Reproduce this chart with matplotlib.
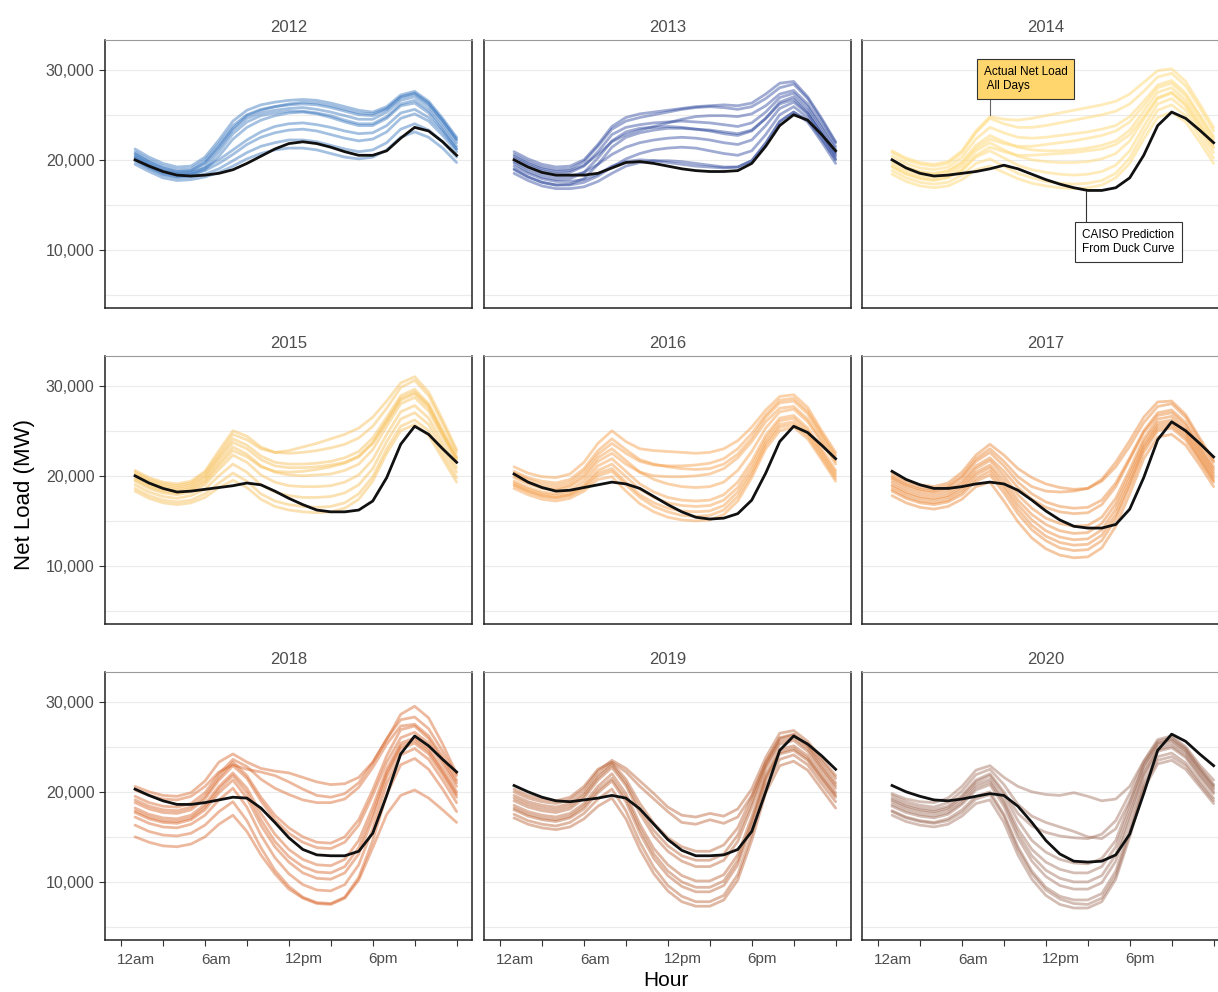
import numpy as np
import matplotlib
matplotlib.use('Agg')
import matplotlib.pyplot as plt
import matplotlib.transforms as mtransforms

plt.rcParams['font.family'] = ['Liberation Sans', 'DejaVu Sans']

# net load in thousands of MW, hours 1..24
hours = list(range(1, 25))
years = [2012, 2013, 2014, 2015, 2016, 2017, 2018, 2019, 2020]
year_colors = ['#3574BE', '#2A459C', '#FFDC80', '#F7BE52', '#F49A42',
               '#EA8330', '#D96428', '#B86032', '#A06E5A']
tick_hours = [0, 3, 6, 9, 12, 15, 18, 21, 24]
tick_labels = ['12am', '', '6am', '', '12pm', '', '6pm', '', '']
y_ticks = [10000, 20000, 30000]

caiso_2012 = [20.0, 19.3, 18.7, 18.3, 18.2, 18.3, 18.5, 18.9, 19.6, 20.4, 21.2, 21.8, 22.0, 21.8, 21.4, 20.9, 20.5, 20.5, 21.0, 22.4, 23.6, 23.2, 22.0, 20.5]
caiso_2013 = [20.0, 19.2, 18.6, 18.3, 18.3, 18.3, 18.5, 19.1, 19.7, 19.8, 19.6, 19.3, 19.0, 18.8, 18.7, 18.7, 18.8, 19.6, 21.5, 23.8, 25.0, 24.4, 22.8, 21.0]
caiso_2014 = [20.0, 19.1, 18.5, 18.2, 18.3, 18.5, 18.7, 19.0, 19.4, 19.0, 18.4, 17.8, 17.3, 16.9, 16.6, 16.6, 16.9, 18.0, 20.5, 23.8, 25.3, 24.6, 23.3, 21.9]
caiso_2015 = [20.0, 19.2, 18.6, 18.2, 18.3, 18.5, 18.7, 18.9, 19.2, 19.0, 18.3, 17.5, 16.8, 16.2, 16.0, 16.0, 16.2, 17.2, 19.8, 23.5, 25.5, 24.6, 23.0, 21.5]
caiso_2016 = [20.2, 19.3, 18.7, 18.3, 18.4, 18.7, 19.0, 19.3, 19.1, 18.6, 17.7, 16.8, 16.0, 15.4, 15.2, 15.3, 15.8, 17.3, 20.3, 23.8, 25.5, 24.8, 23.4, 21.9]
caiso_2017 = [20.5, 19.6, 19.0, 18.6, 18.6, 18.8, 19.1, 19.3, 19.1, 18.4, 17.3, 16.1, 15.1, 14.4, 14.2, 14.2, 14.6, 16.3, 19.8, 24.0, 26.0, 25.0, 23.6, 22.1]
caiso_2018 = [20.3, 19.6, 19.0, 18.6, 18.6, 18.8, 19.1, 19.4, 19.3, 18.2, 16.6, 14.9, 13.6, 13.0, 12.9, 12.9, 13.4, 15.4, 19.6, 24.2, 26.2, 25.1, 23.6, 22.2]
caiso_2019 = [20.7, 20.0, 19.4, 19.0, 18.9, 19.1, 19.3, 19.6, 19.3, 18.1, 16.4, 14.7, 13.5, 12.9, 12.9, 13.0, 13.6, 15.6, 20.0, 24.6, 26.2, 25.3, 24.0, 22.5]
caiso_2020 = [20.7, 20.0, 19.5, 19.1, 19.0, 19.2, 19.5, 19.8, 19.6, 18.4, 16.6, 14.6, 13.1, 12.3, 12.2, 12.3, 13.0, 15.3, 19.8, 24.6, 26.4, 25.6, 24.2, 22.9]

days_2012 = [
    [20.9, 20.0, 19.3, 18.9, 19.0, 20.0, 21.8, 23.8, 25.0, 25.6, 25.9, 26.1, 26.2, 26.1, 25.8, 25.4, 25.0, 24.9, 25.6, 26.9, 27.3, 26.2, 24.3, 22.2],
    [20.6, 19.7, 19.0, 18.6, 18.7, 19.6, 21.3, 23.3, 24.6, 25.2, 25.5, 25.7, 25.8, 25.6, 25.3, 24.9, 24.5, 24.5, 25.3, 26.6, 27.0, 25.9, 24.0, 21.9],
    [20.3, 19.4, 18.7, 18.3, 18.4, 19.2, 20.9, 22.9, 24.2, 24.9, 25.2, 25.4, 25.4, 25.2, 24.9, 24.4, 24.0, 24.0, 24.8, 26.2, 26.6, 25.5, 23.6, 21.5],
    [21.2, 20.3, 19.6, 19.2, 19.3, 20.3, 22.2, 24.3, 25.5, 26.1, 26.4, 26.6, 26.7, 26.6, 26.3, 25.9, 25.5, 25.3, 25.9, 27.2, 27.6, 26.5, 24.6, 22.5],
    [20.0, 19.1, 18.4, 18.1, 18.2, 18.9, 20.4, 22.3, 23.6, 24.4, 24.9, 25.2, 25.3, 25.1, 24.7, 24.2, 23.8, 23.8, 24.6, 26.0, 26.3, 25.2, 23.3, 21.2],
    [20.7, 19.8, 19.1, 18.7, 18.8, 19.7, 21.5, 23.5, 24.9, 25.5, 25.9, 26.2, 26.4, 26.3, 26.0, 25.6, 25.2, 25.1, 25.7, 27.0, 27.4, 26.3, 24.4, 22.3],
    [20.4, 19.5, 18.8, 18.5, 18.6, 19.1, 20.0, 21.1, 22.2, 23.1, 23.7, 24.0, 24.1, 23.9, 23.6, 23.2, 22.9, 23.0, 23.8, 25.2, 25.6, 24.7, 23.1, 21.2],
    [20.2, 19.3, 18.6, 18.3, 18.4, 18.8, 19.6, 20.6, 21.7, 22.5, 23.0, 23.3, 23.4, 23.2, 22.8, 22.4, 22.1, 22.3, 23.1, 24.6, 25.1, 24.3, 22.7, 20.9],
    [19.8, 19.0, 18.3, 18.0, 18.1, 18.4, 19.0, 19.9, 20.8, 21.5, 21.9, 22.2, 22.2, 22.0, 21.6, 21.2, 20.9, 21.1, 21.9, 23.4, 24.0, 23.3, 22.0, 20.3],
    [19.5, 18.7, 18.0, 17.7, 17.8, 18.1, 18.6, 19.3, 20.1, 20.7, 21.1, 21.3, 21.3, 21.1, 20.7, 20.3, 20.1, 20.3, 21.1, 22.5, 23.1, 22.5, 21.3, 19.7],
]

days_2013 = [
    [20.6, 19.8, 19.2, 18.9, 19.0, 19.8, 21.5, 23.4, 24.3, 24.7, 25.0, 25.3, 25.6, 25.8, 25.9, 25.8, 25.6, 25.9, 26.8, 28.0, 28.4, 26.8, 24.4, 21.9],
    [20.2, 19.4, 18.8, 18.5, 18.6, 19.3, 20.9, 22.8, 23.6, 23.9, 24.1, 24.2, 24.3, 24.2, 24.1, 23.9, 23.7, 24.1, 25.3, 26.9, 27.4, 25.9, 23.6, 21.2],
    [19.6, 18.7, 18.1, 17.8, 17.9, 18.6, 20.2, 22.1, 23.1, 23.5, 23.6, 23.7, 23.6, 23.4, 23.2, 22.9, 22.7, 23.2, 24.6, 26.4, 27.0, 25.5, 23.2, 20.8],
    [19.0, 18.1, 17.5, 17.2, 17.3, 17.9, 19.5, 21.4, 22.5, 23.0, 23.3, 23.5, 23.5, 23.4, 23.3, 23.1, 22.9, 23.3, 24.6, 26.2, 26.7, 25.2, 22.9, 20.4],
    [20.4, 19.6, 19.0, 18.7, 18.8, 19.4, 20.6, 22.0, 22.8, 23.3, 23.7, 24.1, 24.5, 24.8, 24.9, 24.9, 24.8, 25.1, 26.0, 27.3, 27.7, 26.2, 23.9, 21.5],
    [19.8, 19.0, 18.4, 18.1, 18.2, 18.6, 19.5, 20.6, 21.4, 21.9, 22.2, 22.4, 22.5, 22.4, 22.2, 21.9, 21.7, 22.2, 23.8, 25.7, 26.4, 25.1, 22.9, 20.6],
    [18.9, 18.1, 17.5, 17.2, 17.2, 17.5, 18.2, 19.2, 20.1, 20.7, 21.1, 21.3, 21.4, 21.3, 21.0, 20.7, 20.5, 21.0, 22.8, 25.0, 25.9, 24.7, 22.5, 20.1],
    [18.5, 17.7, 17.1, 16.8, 16.8, 17.0, 17.6, 18.5, 19.3, 19.7, 19.9, 19.9, 19.8, 19.6, 19.4, 19.2, 19.2, 19.9, 21.9, 24.3, 25.3, 24.2, 22.0, 19.6],
    [19.3, 18.5, 17.9, 17.6, 17.6, 17.8, 18.4, 19.3, 19.8, 20.0, 19.9, 19.7, 19.5, 19.3, 19.2, 19.1, 19.2, 19.9, 21.8, 24.2, 25.3, 24.4, 22.3, 20.0],
    [20.9, 20.1, 19.5, 19.2, 19.3, 20.0, 21.7, 23.7, 24.7, 25.1, 25.3, 25.5, 25.7, 25.9, 26.0, 26.1, 26.0, 26.3, 27.3, 28.5, 28.7, 27.0, 24.6, 22.0],
]

days_2014 = [
    [20.8, 20.0, 19.5, 19.3, 19.6, 20.8, 23.0, 24.6, 24.0, 23.6, 23.6, 23.8, 24.1, 24.4, 24.7, 25.0, 25.4, 26.2, 27.6, 29.2, 29.6, 28.2, 25.8, 23.2],
    [20.4, 19.6, 19.1, 18.9, 19.2, 20.3, 22.3, 23.6, 23.0, 22.5, 22.4, 22.5, 22.7, 22.9, 23.1, 23.4, 23.8, 24.8, 26.5, 28.3, 28.8, 27.4, 25.0, 22.6],
    [20.0, 19.2, 18.7, 18.5, 18.8, 19.8, 21.6, 22.7, 22.0, 21.4, 21.1, 21.0, 21.0, 21.1, 21.3, 21.6, 22.1, 23.3, 25.4, 27.5, 28.0, 26.6, 24.3, 21.9],
    [19.6, 18.8, 18.3, 18.1, 18.4, 19.3, 21.0, 21.9, 21.1, 20.4, 20.0, 19.8, 19.7, 19.7, 19.8, 20.1, 20.7, 22.1, 24.5, 26.8, 27.4, 26.0, 23.7, 21.3],
    [19.2, 18.4, 17.9, 17.7, 18.0, 18.8, 20.3, 21.0, 20.2, 19.4, 18.9, 18.6, 18.4, 18.3, 18.4, 18.7, 19.4, 21.0, 23.7, 26.2, 26.8, 25.5, 23.2, 20.8],
    [18.8, 18.0, 17.5, 17.3, 17.5, 18.3, 19.6, 20.1, 19.3, 18.5, 18.0, 17.6, 17.4, 17.3, 17.4, 17.7, 18.5, 20.2, 23.0, 25.5, 26.1, 24.9, 22.6, 20.2],
    [21.0, 20.2, 19.7, 19.5, 19.8, 21.0, 23.2, 24.8, 24.5, 24.4, 24.6, 24.9, 25.2, 25.5, 25.8, 26.1, 26.5, 27.3, 28.6, 29.9, 30.1, 28.7, 26.2, 23.6],
    [18.4, 17.6, 17.1, 16.9, 17.1, 17.8, 18.9, 19.3, 18.6, 17.9, 17.4, 17.1, 16.9, 16.8, 16.9, 17.2, 18.0, 19.6, 22.3, 24.7, 25.3, 24.2, 22.0, 19.6],
    [19.9, 19.1, 18.6, 18.4, 18.7, 19.6, 21.3, 22.3, 21.8, 21.5, 21.5, 21.7, 21.9, 22.1, 22.4, 22.7, 23.2, 24.2, 26.0, 28.0, 28.5, 27.1, 24.8, 22.3],
    [19.3, 18.5, 18.0, 17.8, 18.1, 18.9, 20.5, 21.4, 20.9, 20.5, 20.5, 20.6, 20.7, 20.8, 21.0, 21.2, 21.7, 22.8, 24.8, 26.9, 27.5, 26.2, 23.9, 21.5],
]

days_2015 = [
    [20.6, 19.8, 19.3, 19.1, 19.4, 20.5, 22.8, 25.0, 24.4, 23.2, 22.6, 22.5, 22.6, 22.8, 23.1, 23.5, 24.2, 25.5, 27.5, 29.8, 30.6, 28.9, 25.8, 22.6],
    [20.2, 19.4, 18.9, 18.7, 19.0, 20.0, 22.1, 24.1, 23.4, 22.2, 21.5, 21.3, 21.3, 21.4, 21.6, 22.0, 22.7, 24.2, 26.5, 28.9, 29.6, 28.0, 25.0, 22.1],
    [19.8, 19.0, 18.5, 18.3, 18.6, 19.5, 21.4, 23.2, 22.4, 21.1, 20.4, 20.1, 20.0, 20.1, 20.2, 20.6, 21.3, 22.9, 25.5, 28.0, 28.7, 27.2, 24.3, 21.5],
    [19.4, 18.6, 18.1, 17.9, 18.2, 19.0, 20.7, 22.3, 21.5, 20.1, 19.3, 18.9, 18.8, 18.8, 18.9, 19.3, 20.1, 21.8, 24.6, 27.1, 27.8, 26.4, 23.6, 20.9],
    [19.0, 18.2, 17.7, 17.5, 17.8, 18.5, 20.0, 21.3, 20.4, 19.0, 18.2, 17.8, 17.6, 17.6, 17.7, 18.1, 19.0, 20.8, 23.8, 26.3, 27.0, 25.7, 23.0, 20.4],
    [18.6, 17.8, 17.3, 17.1, 17.3, 18.0, 19.2, 20.3, 19.4, 18.0, 17.2, 16.8, 16.6, 16.5, 16.6, 17.0, 18.0, 19.9, 23.0, 25.5, 26.2, 25.0, 22.4, 19.8],
    [20.4, 19.6, 19.1, 18.9, 19.2, 20.3, 22.4, 24.6, 24.0, 23.0, 22.6, 22.8, 23.2, 23.6, 24.1, 24.6, 25.3, 26.5, 28.3, 30.3, 31.0, 29.3, 26.2, 22.9],
    [18.3, 17.5, 17.0, 16.8, 17.0, 17.6, 18.7, 19.5, 18.7, 17.4, 16.6, 16.2, 16.0, 15.9, 16.0, 16.4, 17.4, 19.4, 22.5, 25.0, 25.7, 24.5, 21.9, 19.3],
    [19.6, 18.8, 18.3, 18.1, 18.4, 19.3, 21.1, 22.8, 22.1, 21.0, 20.5, 20.4, 20.5, 20.7, 21.0, 21.4, 22.1, 23.6, 26.0, 28.4, 29.1, 27.6, 24.6, 21.8],
    [20.0, 19.2, 18.7, 18.5, 18.8, 19.8, 21.8, 23.7, 23.0, 21.8, 21.1, 20.9, 20.9, 21.0, 21.2, 21.5, 22.2, 23.7, 26.1, 28.6, 29.3, 27.8, 24.8, 22.0],
]

days_2016 = [
    [21.0, 20.3, 19.9, 19.8, 20.2, 21.5, 23.6, 25.0, 23.8, 23.0, 22.8, 22.7, 22.6, 22.5, 22.6, 23.0, 23.9, 25.4, 27.3, 28.8, 29.0, 27.6, 25.0, 22.6],
    [20.5, 19.8, 19.4, 19.2, 19.6, 20.8, 22.8, 24.1, 22.9, 21.8, 21.3, 21.0, 20.8, 20.7, 20.8, 21.3, 22.4, 24.2, 26.5, 28.1, 28.3, 26.9, 24.4, 22.0],
    [20.0, 19.3, 18.8, 18.6, 19.0, 20.1, 22.0, 23.0, 21.7, 20.4, 19.6, 19.1, 18.8, 18.7, 18.8, 19.3, 20.6, 22.7, 25.3, 27.1, 27.4, 26.0, 23.7, 21.3],
    [19.4, 18.7, 18.2, 18.0, 18.4, 19.4, 21.1, 21.9, 20.5, 19.1, 18.2, 17.6, 17.3, 17.2, 17.3, 17.9, 19.3, 21.6, 24.5, 26.4, 26.7, 25.3, 23.0, 20.6],
    [19.0, 18.3, 17.8, 17.6, 17.9, 18.8, 20.3, 20.8, 19.3, 17.9, 17.0, 16.4, 16.1, 16.0, 16.1, 16.7, 18.2, 20.6, 23.7, 25.7, 26.0, 24.7, 22.4, 20.0],
    [18.6, 17.9, 17.4, 17.2, 17.5, 18.3, 19.6, 19.9, 18.3, 16.9, 16.0, 15.4, 15.1, 15.0, 15.1, 15.7, 17.2, 19.8, 23.0, 25.0, 25.4, 24.1, 21.8, 19.4],
    [19.8, 19.1, 18.6, 18.4, 18.8, 19.8, 21.6, 22.5, 21.3, 20.4, 20.0, 19.9, 19.9, 20.0, 20.2, 20.8, 22.0, 23.8, 26.0, 27.5, 27.7, 26.3, 24.0, 21.6],
    [19.2, 18.5, 18.0, 17.8, 18.1, 19.0, 20.6, 21.3, 19.9, 18.5, 17.6, 17.0, 16.7, 16.6, 16.7, 17.3, 18.7, 21.1, 24.1, 26.1, 26.4, 25.0, 22.7, 20.3],
    [20.3, 19.6, 19.1, 18.9, 19.3, 20.5, 22.4, 23.6, 22.5, 21.6, 21.2, 21.1, 21.1, 21.2, 21.4, 21.9, 23.0, 24.7, 26.8, 28.4, 28.6, 27.2, 24.7, 22.3],
    [18.9, 18.2, 17.7, 17.5, 17.8, 18.6, 20.0, 20.5, 19.0, 17.6, 16.6, 16.0, 15.6, 15.5, 15.6, 16.2, 17.7, 20.2, 23.4, 25.4, 25.7, 24.4, 22.1, 19.7],
]

days_2017 = [
    [20.3, 19.5, 19.0, 18.8, 19.2, 20.4, 22.3, 23.5, 22.3, 20.8, 19.8, 19.1, 18.7, 18.5, 18.6, 19.4, 21.0, 23.3, 25.9, 27.7, 28.0, 26.5, 23.9, 21.5],
    [19.8, 19.0, 18.5, 18.3, 18.7, 19.8, 21.6, 22.6, 21.1, 19.3, 18.0, 17.1, 16.6, 16.4, 16.5, 17.3, 19.2, 22.0, 25.0, 27.0, 27.3, 25.9, 23.4, 21.0],
    [19.3, 18.5, 18.0, 17.8, 18.1, 19.1, 20.8, 21.7, 20.0, 17.9, 16.4, 15.3, 14.7, 14.4, 14.5, 15.4, 17.5, 20.7, 24.1, 26.3, 26.6, 25.2, 22.8, 20.4],
    [18.8, 18.0, 17.5, 17.3, 17.6, 18.5, 20.1, 20.9, 19.0, 16.8, 15.1, 13.9, 13.2, 12.9, 13.0, 14.0, 16.3, 19.7, 23.3, 25.6, 25.9, 24.6, 22.2, 19.8],
    [18.3, 17.5, 17.0, 16.8, 17.1, 17.9, 19.4, 20.1, 18.1, 15.8, 14.0, 12.8, 12.0, 11.7, 11.8, 12.8, 15.2, 18.8, 22.6, 25.0, 25.3, 24.0, 21.7, 19.3],
    [17.8, 17.0, 16.5, 16.3, 16.6, 17.4, 18.8, 19.3, 17.2, 14.9, 13.1, 11.9, 11.2, 10.9, 11.0, 12.0, 14.4, 18.0, 21.9, 24.3, 24.6, 23.4, 21.2, 18.8],
    [20.0, 19.2, 18.7, 18.5, 18.9, 20.0, 21.9, 23.0, 21.6, 19.9, 18.8, 18.3, 18.2, 18.3, 18.6, 19.6, 21.5, 23.9, 26.5, 28.2, 28.3, 26.8, 24.2, 21.7],
    [19.0, 18.2, 17.7, 17.5, 17.8, 18.8, 20.4, 21.2, 19.5, 17.3, 15.7, 14.6, 13.9, 13.6, 13.7, 14.7, 16.9, 20.2, 23.7, 25.9, 26.2, 24.9, 22.5, 20.1],
    [18.5, 17.7, 17.2, 17.0, 17.3, 18.2, 19.7, 20.5, 18.6, 16.3, 14.5, 13.3, 12.6, 12.3, 12.4, 13.4, 15.7, 19.2, 23.0, 25.3, 25.6, 24.3, 21.9, 19.5],
    [19.6, 18.8, 18.3, 18.1, 18.4, 19.4, 21.1, 22.0, 20.5, 18.7, 17.4, 16.5, 16.0, 15.8, 15.9, 16.8, 18.8, 21.8, 24.8, 26.7, 27.0, 25.6, 23.1, 20.7],
]

days_2018 = [
    [20.6, 20.0, 19.6, 19.5, 19.9, 21.2, 23.3, 24.2, 23.3, 22.6, 22.3, 22.1, 21.6, 21.1, 20.8, 20.9, 21.6, 23.3, 25.8, 28.6, 29.5, 28.2, 25.3, 22.0],
    [19.5, 18.8, 18.4, 18.3, 18.7, 19.9, 22.0, 23.6, 22.8, 21.4, 20.4, 19.7, 19.1, 18.8, 18.8, 19.2, 20.5, 22.7, 25.3, 27.3, 27.5, 26.2, 23.9, 21.3],
    [18.8, 18.1, 17.7, 17.6, 18.0, 19.2, 21.3, 22.9, 21.5, 19.0, 16.9, 15.4, 14.4, 13.8, 13.7, 14.4, 16.3, 19.6, 23.3, 26.0, 26.6, 25.4, 23.1, 20.6],
    [18.2, 17.5, 17.1, 17.0, 17.4, 18.6, 20.6, 22.1, 20.4, 17.6, 15.3, 13.6, 12.5, 11.9, 11.8, 12.5, 14.6, 18.3, 22.5, 25.4, 26.0, 24.8, 22.5, 20.0],
    [17.7, 17.0, 16.6, 16.5, 16.9, 18.0, 19.9, 21.3, 19.3, 16.3, 13.9, 12.2, 11.0, 10.4, 10.3, 11.0, 13.1, 17.0, 21.7, 24.8, 25.4, 24.2, 21.9, 19.4],
    [17.2, 16.5, 16.1, 16.0, 16.4, 17.4, 19.1, 20.4, 18.3, 15.2, 12.7, 10.9, 9.7, 9.1, 9.0, 9.7, 11.9, 15.9, 20.9, 24.1, 24.8, 23.6, 21.3, 18.8],
    [16.3, 15.6, 15.2, 15.1, 15.4, 16.3, 17.8, 18.9, 16.8, 13.8, 11.3, 9.5, 8.3, 7.7, 7.6, 8.3, 10.5, 14.6, 19.7, 23.0, 23.7, 22.5, 20.3, 17.8],
    [15.0, 14.4, 14.0, 13.9, 14.2, 15.0, 16.4, 17.4, 15.6, 13.0, 10.9, 9.2, 8.2, 7.6, 7.5, 8.2, 10.2, 13.8, 17.5, 19.6, 20.2, 19.3, 18.0, 16.6],
    [19.1, 18.4, 18.0, 17.9, 18.3, 19.5, 21.6, 23.3, 21.8, 19.4, 17.4, 16.0, 15.0, 14.4, 14.3, 15.0, 16.9, 20.2, 24.0, 26.9, 27.3, 25.9, 23.5, 21.0],
    [17.9, 17.2, 16.8, 16.7, 17.1, 18.3, 20.3, 21.8, 19.9, 16.9, 14.5, 12.8, 11.7, 11.1, 11.0, 11.7, 13.8, 17.6, 22.1, 25.1, 25.7, 24.5, 22.2, 19.7],
    [20.2, 19.6, 19.2, 19.1, 19.5, 20.6, 22.2, 23.0, 22.5, 22.2, 21.8, 21.1, 20.3, 19.6, 19.4, 19.8, 21.0, 23.2, 25.9, 28.0, 28.3, 27.0, 24.5, 21.8],
]

days_2019 = [
    [20.3, 19.6, 19.2, 19.0, 19.4, 20.6, 22.5, 23.3, 22.2, 20.6, 19.2, 17.8, 16.6, 16.4, 16.9, 16.5, 17.2, 19.6, 23.2, 26.0, 26.4, 25.2, 23.4, 21.5],
    [19.6, 18.9, 18.5, 18.3, 18.7, 19.9, 21.9, 23.2, 21.4, 18.7, 16.5, 14.9, 13.9, 13.4, 13.4, 14.1, 16.0, 19.4, 23.3, 25.9, 26.3, 25.1, 23.0, 21.0],
    [19.0, 18.3, 17.9, 17.7, 18.1, 19.3, 21.3, 22.7, 20.7, 17.6, 15.1, 13.4, 12.3, 11.7, 11.7, 12.4, 14.5, 18.3, 22.6, 25.3, 25.7, 24.5, 22.4, 20.4],
    [18.5, 17.8, 17.4, 17.2, 17.6, 18.7, 20.6, 22.0, 19.8, 16.4, 13.7, 11.9, 10.7, 10.1, 10.1, 10.8, 13.0, 17.2, 21.9, 24.7, 25.1, 24.0, 21.9, 19.9],
    [18.0, 17.3, 16.9, 16.7, 17.1, 18.1, 19.9, 21.2, 18.9, 15.4, 12.6, 10.7, 9.5, 8.9, 8.9, 9.6, 11.9, 16.3, 21.3, 24.2, 24.6, 23.5, 21.4, 19.4],
    [17.5, 16.8, 16.4, 16.2, 16.6, 17.6, 19.2, 20.3, 17.9, 14.4, 11.6, 9.6, 8.4, 7.8, 7.8, 8.5, 10.8, 15.3, 20.6, 23.6, 24.1, 23.0, 20.9, 18.9],
    [17.1, 16.4, 16.0, 15.8, 16.1, 17.0, 18.4, 19.3, 17.0, 13.6, 10.9, 9.0, 7.8, 7.3, 7.3, 8.0, 10.2, 14.6, 19.9, 22.9, 23.4, 22.4, 20.3, 18.2],
    [19.3, 18.6, 18.2, 18.0, 18.4, 19.6, 21.6, 23.0, 21.0, 18.1, 15.7, 14.0, 12.9, 12.4, 12.4, 13.1, 15.2, 18.8, 22.9, 25.6, 26.0, 24.8, 22.7, 20.7],
    [18.2, 17.5, 17.1, 16.9, 17.3, 18.4, 20.2, 21.5, 19.3, 15.9, 13.1, 11.2, 10.0, 9.4, 9.4, 10.1, 12.4, 16.7, 21.6, 24.4, 24.8, 23.7, 21.6, 19.6],
    [20.0, 19.3, 18.9, 18.7, 19.1, 20.3, 22.3, 23.5, 22.6, 21.2, 19.8, 18.3, 17.4, 17.2, 17.6, 17.3, 18.1, 20.3, 23.8, 26.5, 26.8, 25.6, 23.7, 21.8],
]

days_2020 = [
    [19.8, 19.2, 18.9, 18.8, 19.3, 20.6, 22.4, 22.9, 21.6, 20.6, 20.0, 19.7, 19.6, 19.9, 19.5, 19.0, 19.2, 20.6, 23.4, 25.8, 26.2, 25.0, 23.0, 21.3],
    [19.3, 18.6, 18.2, 18.0, 18.4, 19.6, 21.3, 22.0, 20.0, 17.6, 16.2, 15.5, 15.1, 14.9, 14.8, 15.3, 16.8, 19.8, 23.3, 25.6, 26.0, 24.8, 22.7, 20.8],
    [18.9, 18.2, 17.8, 17.6, 18.0, 19.1, 20.8, 21.4, 19.1, 15.9, 13.6, 12.2, 11.4, 11.0, 11.0, 11.7, 13.9, 18.1, 22.4, 25.0, 25.4, 24.3, 22.2, 20.3],
    [18.4, 17.7, 17.3, 17.1, 17.5, 18.6, 20.2, 20.8, 18.4, 14.9, 12.3, 10.6, 9.6, 9.2, 9.2, 9.9, 12.3, 16.9, 21.7, 24.5, 24.9, 23.8, 21.7, 19.8],
    [17.9, 17.2, 16.8, 16.6, 17.0, 18.0, 19.5, 20.0, 17.5, 13.9, 11.2, 9.4, 8.4, 8.0, 8.0, 8.7, 11.2, 15.9, 21.0, 23.9, 24.3, 23.2, 21.2, 19.3],
    [17.4, 16.7, 16.3, 16.1, 16.4, 17.3, 18.7, 19.1, 16.6, 13.0, 10.3, 8.5, 7.5, 7.1, 7.1, 7.8, 10.3, 15.0, 20.3, 23.1, 23.5, 22.5, 20.6, 18.7],
    [19.6, 18.9, 18.5, 18.3, 18.8, 20.1, 21.9, 22.5, 20.8, 18.6, 17.3, 16.6, 16.1, 15.6, 15.0, 14.8, 15.9, 19.0, 22.9, 25.4, 25.8, 24.7, 22.6, 20.7],
    [18.6, 17.9, 17.5, 17.3, 17.7, 18.8, 20.5, 21.1, 18.8, 15.4, 12.9, 11.3, 10.4, 10.0, 10.0, 10.7, 13.0, 17.5, 22.0, 24.7, 25.1, 24.0, 21.9, 20.0],
    [17.8, 17.1, 16.7, 16.5, 16.8, 17.7, 19.2, 19.7, 17.3, 13.6, 10.9, 9.1, 8.1, 7.6, 7.5, 8.2, 10.7, 15.4, 20.6, 23.5, 23.9, 22.9, 20.9, 19.0],
    [19.1, 18.4, 18.0, 17.8, 18.2, 19.4, 21.1, 21.8, 19.7, 16.8, 14.6, 13.3, 12.5, 12.1, 12.0, 12.6, 14.6, 18.7, 22.9, 25.3, 25.7, 24.5, 22.4, 20.5],
]

all_days = [days_2012, days_2013, days_2014, days_2015, days_2016,
            days_2017, days_2018, days_2019, days_2020]
all_caiso = [caiso_2012, caiso_2013, caiso_2014, caiso_2015, caiso_2016,
             caiso_2017, caiso_2018, caiso_2019, caiso_2020]

W, H = 1218, 992
fig = plt.figure(figsize=(W / 100, H / 100), dpi=100)
col_left = [105, 484, 862]
row_top = [40, 356, 672]
pw, ph = 367, 268

# nudge x labels so they start just left of their tick, like the original
shift = mtransforms.ScaledTranslation(-4 / 100, 0, fig.dpi_scale_trans)

for i, year in enumerate(years):
    r, c = divmod(i, 3)
    ax = fig.add_axes([col_left[c] / W, 1 - (row_top[r] + ph) / H, pw / W, ph / H])

    for g in range(5000, 35000, 5000):
        ax.axhline(g, color='#ebebeb', lw=0.8, zorder=0)

    alpha = 0.55 if year == 2014 else 0.45
    for d in all_days[i]:
        ax.plot(hours, np.array(d) * 1000, color=year_colors[i], alpha=alpha,
                lw=2.0, solid_capstyle='round', zorder=2)
    ax.plot(hours, np.array(all_caiso[i]) * 1000, color='#111111', lw=2.0, zorder=3)

    ax.set_xlim(-1.15, 25.1)
    ax.set_ylim(3550, 33300)
    ax.set_title(str(year), fontsize=12, color='#4d4d4d', pad=6)

    ax.set_xticks(tick_hours)
    if r == 2:
        ax.set_xticklabels(tick_labels, ha='left')
        ax.tick_params(axis='x', length=4, width=0.8, color='#333333', pad=5,
                       labelsize=11, labelcolor='#4d4d4d')
        for lbl in ax.get_xticklabels():
            lbl.set_transform(lbl.get_transform() + shift)
    else:
        ax.tick_params(axis='x', length=0, labelbottom=False)

    if c == 0:
        ax.set_yticks(y_ticks)
        ax.set_yticklabels([f'{v:,}' for v in y_ticks])
        ax.tick_params(axis='y', length=4, width=0.8, color='#333333',
                       labelsize=11.5, labelcolor='#4d4d4d')
    else:
        ax.set_yticks([])

    for side in ['left', 'right', 'bottom']:
        ax.spines[side].set_color('#222222')
        ax.spines[side].set_linewidth(1.1)
    ax.spines['top'].set_color('#9a9a9a')
    ax.spines['top'].set_linewidth(0.8)

    if year == 2014:
        ax.plot([8.0, 8.0], [25000, 26800], color='#666666', lw=0.8, zorder=4)
        ax.text(7.55, 29000, 'Actual Net Load\n All Days', fontsize=8.5, ha='left', va='center',
                zorder=5, bbox=dict(boxstyle='square,pad=0.6', fc='#FFD66E', ec='#333333', lw=0.8))
        ax.plot([14.9, 14.9], [16500, 13100], color='#333333', lw=0.8, zorder=4)
        ax.text(14.6, 10850, 'CAISO Prediction\nFrom Duck Curve', fontsize=8.5, ha='left', va='center',
                zorder=5, bbox=dict(boxstyle='square,pad=0.6', fc='white', ec='#333333', lw=0.8))

fig.text(25 / W, 1 - 495 / H, 'Net Load (MW)', rotation=90, fontsize=16,
         ha='center', va='center')
fig.text(666 / W, 1 - 980 / H, 'Hour', fontsize=15, ha='center', va='center')

fig.savefig('out.png', dpi=100)
